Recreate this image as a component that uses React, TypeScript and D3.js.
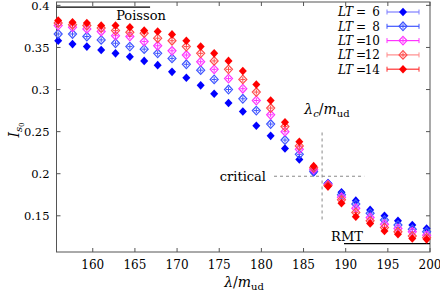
import React from 'react';
import * as d3 from 'd3';

// lambda / m_ud values (x)
const lambda = [155.9, 157.6, 159.3, 161.0, 162.7, 164.4, 166.1, 167.7, 169.4, 171.1, 172.8, 174.4, 176.1, 177.8, 179.4, 181.1, 182.8, 184.5, 186.2, 187.9, 189.5, 191.2, 192.9, 194.6, 196.2, 197.9, 199.6];

// I_s0 for each LT
const lt6 = [0.358, 0.354, 0.351, 0.347, 0.343, 0.339, 0.334, 0.329, 0.321, 0.314, 0.305, 0.295, 0.284, 0.274, 0.257, 0.245, 0.230, 0.217, 0.2015, 0.189, 0.178, 0.168, 0.157, 0.150, 0.144, 0.139, 0.135];
const lt8 = [0.366, 0.366, 0.363, 0.359, 0.355, 0.351, 0.348, 0.343, 0.337, 0.330, 0.323, 0.312, 0.300, 0.289, 0.275, 0.259, 0.240, 0.223, 0.203, 0.188, 0.175, 0.164, 0.153, 0.145, 0.139, 0.134, 0.131];
const lt10 = [0.376, 0.374, 0.372, 0.369, 0.364, 0.363, 0.357, 0.352, 0.346, 0.341, 0.333, 0.324, 0.313, 0.301, 0.287, 0.270, 0.250, 0.229, 0.205, 0.187, 0.172, 0.159, 0.148, 0.140, 0.135, 0.131, 0.127];
const lt12 = [0.379, 0.377, 0.376, 0.373, 0.370, 0.368, 0.367, 0.361, 0.358, 0.351, 0.343, 0.334, 0.324, 0.312, 0.297, 0.278, 0.256, 0.233, 0.207, 0.186, 0.169, 0.154, 0.144, 0.136, 0.131, 0.126, 0.124];
const lt14 = [0.382, 0.380, 0.379, 0.376, 0.376, 0.374, 0.370, 0.369, 0.3655, 0.358, 0.351, 0.343, 0.334, 0.322, 0.306, 0.287, 0.261, 0.238, 0.209, 0.185, 0.165, 0.149, 0.141, 0.132, 0.128, 0.123, 0.122];

const xTicks = [160, 165, 170, 175, 180, 185, 190, 195, 200];
const yTicks = [0.15, 0.2, 0.25, 0.3, 0.35, 0.4];
const yTickLabels = ['0.15', '0.2', '0.25', '0.3', '0.35', '0.4'];

const series = [
  { label: '6', values: lt6, color: '#0000ff', lineColor: '#7f7fff', filled: true },
  { label: '8', values: lt8, color: '#3f55ff', lineColor: '#3f55ff', filled: false },
  { label: '10', values: lt10, color: '#ff33ff', lineColor: '#ff33ff', filled: false },
  { label: '12', values: lt12, color: '#ff4c4c', lineColor: '#ff8c8c', filled: false },
  { label: '14', values: lt14, color: '#ff0000', lineColor: '#ff3030', filled: true },
];

// reference lines
const poisson = 0.398;
const rmt = 0.117;
const lambdaC = 187.2;

const W = 440, H = 291;
const F = 'DejaVu Serif';

function Diamond({ cx, cy, color, filled }: { cx: number; cy: number; color: string; filled: boolean }) {
  const r = 4;
  const d = `M${cx},${cy - r - 0.3}L${cx + r},${cy}L${cx},${cy + r + 0.3}L${cx - r},${cy}Z`;
  if (filled) return <path d={d} fill={color} />;
  return (
    <g>
      <path d={d} fill="none" stroke={color} strokeWidth={1.2} />
      <line x1={cx} x2={cx} y1={cy - 2.5} y2={cy + 2.5} stroke={color} strokeWidth={1} />
      <line x1={cx - 2.5} x2={cx + 2.5} y1={cy} y2={cy} stroke={color} strokeWidth={1} />
    </g>
  );
}

export default function App() {
  const x = d3.scaleLinear().domain([155.7, 200]).range([56.5, 430]);
  const y = d3.scaleLinear().domain([0.107, 0.404]).range([252, 2]);
  const [x0, x1] = x.range();
  const [yb, yt] = y.range();
  const tick = 4;
  const axisColor = '#555';

  return (
    <div style={{ position: 'fixed', left: 0, top: 0 }}>
      <svg width={W} height={H} style={{ display: 'block', background: '#fff' }}>
        {/* frame */}
        <rect x={x0} y={yt} width={x1 - x0} height={yb - yt} fill="none" stroke={axisColor} strokeWidth={1} />

        {/* x ticks */}
        {xTicks.map(t => (
          <g key={'xt' + t}>
            <line x1={x(t)} x2={x(t)} y1={yb} y2={yb - tick} stroke={axisColor} />
            <line x1={x(t)} x2={x(t)} y1={yt} y2={yt + tick} stroke={axisColor} />
            <text fontFamily={F} x={x(t)} y={268.5} fontSize={12} textAnchor="middle" fill="#000">{t}</text>
          </g>
        ))}
        {/* y ticks */}
        {yTicks.map((t, i) => (
          <g key={'yt' + t}>
            <line x1={x0} x2={x0 + tick} y1={y(t)} y2={y(t)} stroke={axisColor} />
            <line x1={x1} x2={x1 - tick} y1={y(t)} y2={y(t)} stroke={axisColor} />
            <text fontFamily={F} x={49.5} y={Math.max(y(t) + 4.3, 10)} fontSize={11.5} textAnchor="end" fill="#000">{yTickLabels[i]}</text>
          </g>
        ))}

        {/* axis titles */}
        <text fontFamily={F} x={244} y={287} fontSize={14} textAnchor="middle" fill="#000">
          <tspan fontStyle="italic">λ</tspan>/<tspan fontStyle="italic">m</tspan>
          <tspan fontSize={10} dy={3}>ud</tspan>
        </text>
        <text fontFamily={F} transform="translate(19,130) rotate(-90)" fontSize={14} textAnchor="middle" fill="#000">
          <tspan fontStyle="italic">I</tspan>
          <tspan fontStyle="italic" fontSize={10} dy={3}>s</tspan>
          <tspan fontSize={7} dy={2}>0</tspan>
        </text>

        {/* Poisson and RMT lines */}
        <line x1={x0} x2={x(166.8)} y1={y(poisson)} y2={y(poisson)} stroke="#000" strokeWidth={1.3} />
        <text fontFamily={F} x={141} y={20} fontSize={13} textAnchor="middle" fill="#000">Poisson</text>
        <line x1={x(189.8)} x2={x1} y1={y(rmt)} y2={y(rmt)} stroke="#000" strokeWidth={1.3} />
        <text fontFamily={F} x={347} y={240.5} fontSize={13} textAnchor="middle" fill="#000">RMT</text>

        {/* critical point guides */}
        <line x1={x(lambdaC)} x2={x(lambdaC)} y1={y(0.249)} y2={y(0.145)} stroke="#888" strokeDasharray="3,3" />
        <line x1={x(181.5)} x2={x(192.2)} y1={y(0.197)} y2={y(0.197)} stroke="#888" strokeDasharray="3,3" />
        <text fontFamily={F} x={266} y={180.5} fontSize={13} textAnchor="end" fill="#000">critical</text>
        <text fontFamily={F} x={327} y={114} fontSize={14} textAnchor="middle" fill="#000">
          <tspan fontStyle="italic">λ</tspan>
          <tspan fontStyle="italic" fontSize={10} dy={3}>c</tspan>
          <tspan dy={-3}>/</tspan>
          <tspan fontStyle="italic">m</tspan>
          <tspan fontSize={10} dy={3}>ud</tspan>
        </text>

        {/* data points */}
        {series.map(s => (
          <g key={'s' + s.label}>
            {s.values.map((v, i) => (
              <Diamond key={i} cx={x(lambda[i])} cy={y(v)} color={s.color} filled={s.filled} />
            ))}
          </g>
        ))}

        {/* legend */}
        {series.map((s, i) => {
          const ly = 12 + 14.3 * i;
          return (
            <g key={'l' + s.label}>
              <text fontFamily={F} x={353} y={ly + 4.3} fontSize={12} textAnchor="end" fontStyle="italic" fill="#000">LT</text>
              <text fontFamily={F} x={361} y={ly + 4.3} fontSize={12} textAnchor="middle" fill="#000">=</text>
              <text fontFamily={F} x={380} y={ly + 4.3} fontSize={12} textAnchor="end" fill="#000">{s.label}</text>
              <line x1={387} x2={419} y1={ly} y2={ly} stroke={s.lineColor} strokeWidth={1.2} />
              <line x1={387} x2={387} y1={ly - 2.5} y2={ly + 2.5} stroke={s.lineColor} strokeWidth={1} />
              <line x1={419} x2={419} y1={ly - 2.5} y2={ly + 2.5} stroke={s.lineColor} strokeWidth={1} />
              <Diamond cx={403} cy={ly} color={s.color} filled={s.filled} />
            </g>
          );
        })}
      </svg>
    </div>
  );
}
